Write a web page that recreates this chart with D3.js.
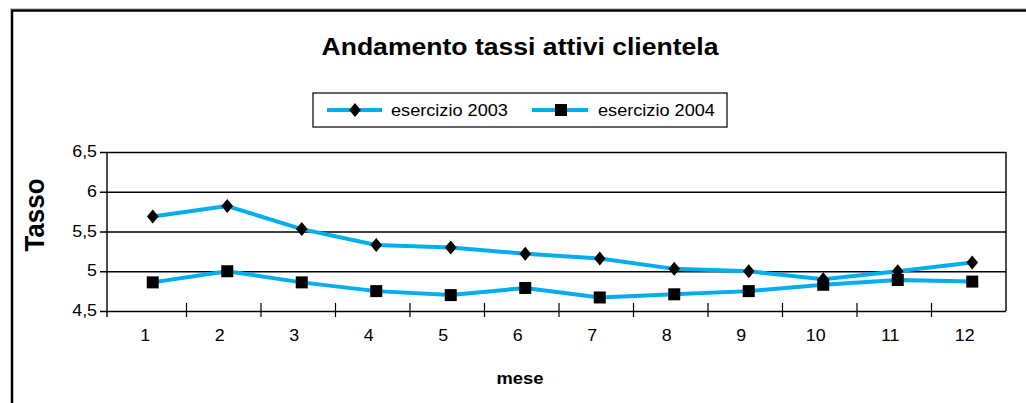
<!DOCTYPE html>
<html>
<head>
<meta charset="utf-8">
<script src="https://cdn.jsdelivr.net/npm/d3@7"></script>
<style>
  html, body { margin: 0; padding: 0; background: #fff; }
  svg { display: block; font-family: "Liberation Sans", Arial, sans-serif; }
</style>
</head>
<body>
<svg id="chart" width="1026" height="403"></svg>
<script>
// ---- data ----
const months = ["1","2","3","4","5","6","7","8","9","10","11","12"];
const yTickValues = [4.5, 5, 5.5, 6, 6.5];
const yTickLabels = ["4,5", "5", "5,5", "6", "6,5"];
const seriesNames = ["esercizio 2003", "esercizio 2004"];
const values2003 = [5.69, 5.82, 5.53, 5.33, 5.30, 5.22, 5.16, 5.03, 5.00, 4.90, 5.00, 5.11];
const values2004 = [4.86, 5.00, 4.86, 4.75, 4.70, 4.79, 4.67, 4.71, 4.75, 4.83, 4.89, 4.87];
const titleText = "Andamento tassi attivi clientela";
const yTitle = "Tasso";
const xTitle = "mese";

// ---- layout ----
const W = 1026, H = 403;
const plot = { left: 107, right: 1006, top: 152, bottom: 311, bandLeft: 112 };
const sx = 1.08;           // slight horizontal text stretch seen in the reference
const lineColor = "#00AEEF";

const svg = d3.select("#chart");
svg.append("rect").attr("width", W).attr("height", H).attr("fill", "#fff");

// outer frame
svg.append("line").attr("x1", 10).attr("x2", W).attr("y1", 8.5).attr("y2", 8.5)
  .attr("stroke", "#c8c8c8").attr("stroke-width", 1);
svg.append("rect").attr("x", 12).attr("y", 10.5).attr("width", 1040).attr("height", 430)
  .attr("fill", "none").attr("stroke", "#000").attr("stroke-width", 2.5);

// scales
const x = d3.scaleBand().domain(months).range([plot.bandLeft, plot.right]).padding(0);
const y = d3.scaleLinear().domain([4.5, 6.5]).range([plot.bottom, plot.top]);

// gridlines + y labels via axis
const yAxis = d3.axisLeft(y)
  .tickValues(yTickValues)
  .tickSize(plot.right - 100)
  .tickFormat((d, i) => yTickLabels[i]);
const gy = svg.append("g").attr("transform", `translate(${plot.right},0)`).call(yAxis);
gy.select(".domain").remove();
gy.selectAll(".tick line").attr("stroke", "#000").attr("stroke-width", 1.4);
gy.selectAll(".tick text")
  .attr("x", null).attr("dy", "0.34em")
  .attr("transform", `translate(${97 - plot.right},-1) scale(${sx},1)`)
  .attr("font-size", 16.5).attr("fill", "#000")
  .attr("font-family", "'Liberation Sans', Arial, sans-serif");

// plot vertical borders
svg.append("line").attr("x1", plot.left).attr("x2", plot.left)
  .attr("y1", plot.top).attr("y2", plot.bottom + 6)
  .attr("stroke", "#000").attr("stroke-width", 1.4);
svg.append("line").attr("x1", plot.right).attr("x2", plot.right)
  .attr("y1", plot.top).attr("y2", plot.bottom)
  .attr("stroke", "#000").attr("stroke-width", 1.4);

// x ticks between categories
svg.append("g").selectAll("line").data(months.slice(1)).join("line")
  .attr("x1", d => x(d)).attr("x2", d => x(d))
  .attr("y1", plot.bottom - 8).attr("y2", plot.bottom + 6)
  .attr("stroke", "#000").attr("stroke-width", 1.2);

// x labels via axis
const xAxis = d3.axisBottom(x).tickSize(0).tickPadding(0);
const gx = svg.append("g").attr("transform", `translate(0,${plot.bottom})`).call(xAxis);
gx.select(".domain").remove();
gx.selectAll(".tick text")
  .attr("y", 0).attr("dy", 0)
  .attr("transform", `translate(-4,30) scale(${sx},1)`)
  .attr("font-size", 16.5).attr("fill", "#000")
  .attr("font-family", "'Liberation Sans', Arial, sans-serif");

// series lines
const markerShift = 3.5;
const px = (i) => x(months[i]) + x.bandwidth() / 2 + markerShift;
const line = d3.line().x((d, i) => px(i)).y(d => y(d));
[values2003, values2004].forEach(vals => {
  svg.append("path").datum(vals).attr("d", line)
    .attr("fill", "none").attr("stroke", lineColor).attr("stroke-width", 4)
    .attr("stroke-linejoin", "round");
});

// markers
const diamondPath = "M0,-7L5.8,0L0,7L-5.8,0Z";
svg.append("g").selectAll("path").data(values2003).join("path")
  .attr("d", diamondPath)
  .attr("transform", (d, i) => `translate(${px(i)},${y(d)})`)
  .attr("fill", "#000");
const sq = 12;
svg.append("g").selectAll("rect").data(values2004).join("rect")
  .attr("x", (d, i) => px(i) - sq / 2).attr("y", d => y(d) - sq / 2)
  .attr("width", sq).attr("height", sq).attr("fill", "#000");

// title
svg.append("g").attr("transform", `translate(520,55) scale(${sx},1)`)
  .append("text").attr("text-anchor", "middle")
  .attr("font-size", 24.6).attr("font-weight", "bold").attr("fill", "#000")
  .text(titleText);

// axis titles
svg.append("g").attr("transform", `translate(44,215) scale(${sx},1) rotate(-90)`)
  .append("text").attr("text-anchor", "middle")
  .attr("font-size", 26).attr("font-weight", "bold").attr("fill", "#000")
  .text(yTitle);
svg.append("g").attr("transform", `translate(520,384) scale(${sx},1)`)
  .append("text").attr("text-anchor", "middle")
  .attr("font-size", 17).attr("font-weight", "bold").attr("fill", "#000")
  .text(xTitle);

// legend
svg.append("rect").attr("x", 313).attr("y", 93).attr("width", 414).attr("height", 34)
  .attr("fill", "#fff").attr("stroke", "#333").attr("stroke-width", 1.5);
const legendItems = [
  { name: seriesNames[0], x0: 327, x1: 382, mx: 355, tx: 391, shape: "diamond" },
  { name: seriesNames[1], x0: 532, x1: 588, mx: 561, tx: 598, shape: "square" }
];
const lg = svg.append("g").selectAll("g").data(legendItems).join("g");
lg.append("line").attr("x1", d => d.x0).attr("x2", d => d.x1)
  .attr("y1", 110).attr("y2", 110).attr("stroke", lineColor).attr("stroke-width", 4);
lg.filter(d => d.shape === "diamond").append("path").attr("d", diamondPath)
  .attr("transform", d => `translate(${d.mx},110)`).attr("fill", "#000");
lg.filter(d => d.shape === "square").append("rect")
  .attr("x", d => d.mx - sq / 2).attr("y", 110 - sq / 2)
  .attr("width", sq).attr("height", sq).attr("fill", "#000");
lg.append("g").attr("transform", d => `translate(${d.tx},116) scale(${sx},1)`)
  .append("text").attr("font-size", 16.8).attr("fill", "#000").text(d => d.name);
</script>
</body>
</html>
